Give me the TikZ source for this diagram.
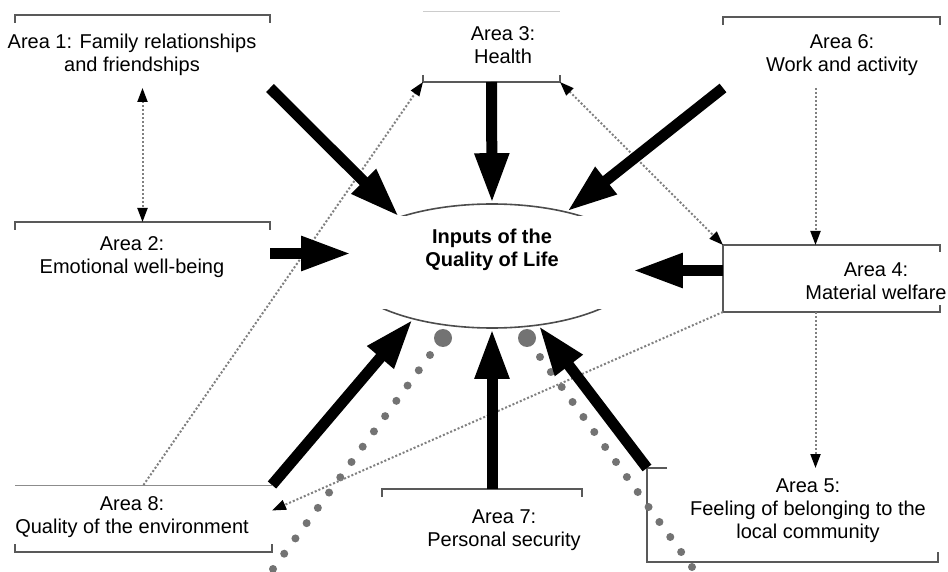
\documentclass[tikz,border=0pt]{standalone}
\usepackage{fontspec}
\setmainfont{Liberation Sans}
\usetikzlibrary{arrows.meta,shapes.geometric,calc}
\begin{document}
\begin{tikzpicture}[x=0.5pt,y=-0.5pt,
	frame/.style={draw=black!65,line width=1pt},
	boxnode/.style={rectangle,inner sep=0pt,outer sep=0pt},
	areatext/.style={align=center,inner sep=0pt,font=\fontsize{10}{11.5}\selectfont},
	bigarrow/.style={line width=5.5pt,-{Triangle[length=25pt,width=16pt]}},
	dotarrow/.style={black!50,line width=1pt,dash pattern=on 1pt off 1pt,-{Triangle[length=7pt,width=5pt,color=black]}},
	dotboth/.style={dotarrow,{Triangle[length=7pt,width=5pt,color=black]}-{Triangle[length=7pt,width=5pt,color=black]}},
	greydot/.style={fill=black!55}]
	\fill[white] (0,0) rectangle (948,572);
	\useasboundingbox (0,0) rectangle (948,572);
	\node[boxnode,minimum width=127.5pt,minimum height=36.5pt] (box1) at (142.5,51.5) {};
	\node[boxnode,minimum width=127.5pt,minimum height=31.5pt] (box2) at (142.5,253.5) {};
	\node[boxnode,minimum width=68.5pt,minimum height=35pt] (box3) at (491.5,47) {};
	\node[boxnode,minimum width=108.5pt,minimum height=33.5pt] (box4) at (831.5,278.5) {};
	\node[boxnode,minimum width=145.5pt,minimum height=47pt] (box5) at (792.5,515) {};
	\node[boxnode,minimum width=108.5pt,minimum height=35.5pt] (box6) at (831.5,52.5) {};
	\node[boxnode,minimum width=100pt,minimum height=35.5pt] (box7) at (482,524.5) {};
	\node[boxnode,minimum width=128.5pt,minimum height=33.5pt] (box8) at (143.5,518.5) {};
	\foreach \b in {box1,box2,box6,box7}
		\draw[frame] (\b.north west) ++(0,8) -- ++(0,-8) -- (\b.north east) -- ++(0,8);
	\draw[black!20,line width=0.5pt] (box3.north west) -- (box3.north east);
	\draw[frame] (box3.south west) ++(0,-7) -- ++(0,7) -- (box3.south east) -- ++(0,-7);
	\draw[frame] (box4.north east) ++(0,7) -- ++(0,-7) -- (box4.north west) -- (box4.south west) -- (box4.south east) -- ++(0,-7);
	\draw[frame] (box5.north west) ++(20,0) -- ++(-20,0) -- (box5.south west) -- (box5.south east) -- ++(0,-10);
	\draw[black!45,line width=0.5pt] (box8.north west) -- (box8.north east);
	\draw[frame] (box8.south west) ++(0,-8) -- ++(0,8) -- (box8.south east) -- ++(0,-8);
	\node[ellipse,draw=black!70,line width=0.8pt,minimum width=150pt,minimum height=62pt,inner sep=0pt] (ring) at (492,266) {};
	\fill[white] (338,216) rectangle (648,309);
	\node[areatext,font=\fontsize{10}{11.5}\selectfont\bfseries] (inputs) at (492,250) {Inputs of the\\Quality of Life};
	\fill[greydot] (443,338) circle (9);
	\foreach \i in {0,...,14} \fill[greydot] ($(430,355)!\i/14!(273,569)$) circle (4);
	\fill[greydot] (527,338) circle (9);
	\foreach \i in {0,...,14} \fill[greydot] ($(540,357)!\i/14!(692,567)$) circle (4);
	\draw[dotboth] (box1.south) -- (box2.north);
	\draw[dotarrow] (box8.north) -- (box3.south west);
	\draw[dotboth] (box3.south east) -- (box4.north west);
	\draw[dotarrow] ([xshift=-8pt]box6.south) -- ([xshift=-8pt]box4.north);
	\draw[dotarrow] ([xshift=-8pt]box4.south) -- ([xshift=-8pt]box4.south |- box5.north);
	\draw[dotarrow] (box4.south west) -- ([yshift=4pt]box8.east);
	\draw[bigarrow] (box1.south east) -- (ring.152);
	\draw[bigarrow] (box3.south) -- (ring.north);
	\draw[bigarrow] (box6.south west) -- (ring.36);
	\draw[bigarrow,shorten >=-5pt] (box2.east) -- (box2.east -| ring.west);
	\draw[bigarrow,shorten >=-5pt] ([yshift=4pt]box4.west) -- ([yshift=4pt]box4.west -| ring.east);
	\draw[bigarrow] (box8.north east) -- (ring.214);
	\draw[bigarrow] ([xshift=5pt]box7.north) -- (ring.south);
	\draw[bigarrow] (box5.north west) -- (ring.308);
	\node[areatext] (area1) at (132,55) {Area 1: Family relationships\\and friendships};
	\node[areatext] (area2) at (132,257) {Area 2:\\Emotional well-being};
	\node[areatext] (area3) at (503,45) {Area 3:\\Health};
	\node[areatext] (area4) at (876,281) {Area 4:\\Material welfare};
	\node[areatext] (area5) at (808,511) {Area 5:\\Feeling of belonging to the\\local community};
	\node[areatext] (area6) at (842,55) {Area 6:\\Work and activity};
	\node[areatext] (area7) at (504,530) {Area 7:\\Personal security};
	\node[areatext] (area8) at (132,517) {Area 8:\\Quality of the environment};
\end{tikzpicture}
\end{document}
